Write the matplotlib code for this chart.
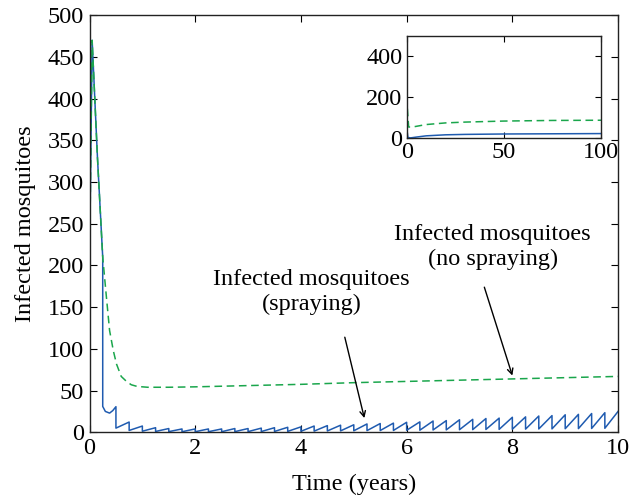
import numpy as np
import matplotlib
matplotlib.use("Agg")
import matplotlib.pyplot as plt

plt.rcParams['font.family'] = ['Liberation Serif', 'DejaVu Serif']

# ---------------- data ----------------
# No spraying (green dashed): knots
green_t = [0.0, 0.05, 0.15, 0.25, 0.32, 0.38, 0.45, 0.51, 0.60, 0.70, 0.79, 0.9, 1.1, 1.5, 2.0, 3.0, 4.0, 5.0, 6.0, 7.0, 8.0, 9.0, 10.0]
green_v = [200, 470, 330, 210, 162, 122, 98, 82, 67, 61, 57, 55, 54, 54, 54.5, 56, 57.5, 59.5, 61, 62.5, 64, 65.5, 67]

# Spraying (blue): initial transient before the quarterly sprays
blue_early_t = [0.0, 0.05, 0.15, 0.25, 0.25, 0.30, 0.38, 0.44]
blue_early_v = [200, 470, 330, 210, 31, 25, 23, 26]

# Quarterly spraying: value just before / just after each spray
spray_times = np.arange(0.5, 10.01, 0.25)
pre_spray = [30.7, 12.3, 7.5, 5.5, 4.5, 4.0, 4.0, 4.0, 4.0, 4.5,
             4.5, 5.0, 5.5, 6.0, 6.5, 7.5, 8.0, 8.5, 9.0, 10.0,
             10.5, 11.0, 12.0, 12.5, 13.5, 14.0, 15.0, 15.5, 16.5, 17.0,
             18.0, 18.5, 19.5, 20.0, 21.0, 21.5, 22.5, 23.5, 25.0]
post_spray = [5.0, 2.2, 1.3, 1.0, 0.8, 0.7, 0.7, 0.7, 0.7, 0.8,
              0.8, 0.9, 1.0, 1.1, 1.2, 1.4, 1.6, 1.7, 1.8, 2.0,
              2.1, 2.2, 2.4, 2.5, 2.8, 2.9, 3.1, 3.2, 3.4, 3.5,
              3.7, 3.8, 4.0, 4.1, 4.3, 4.4, 4.6, 4.8, 5.0]

# Inset (0-100 years)
inset_green_t = [0.0, 0.05, 0.3, 1.0, 3.0, 10, 20, 30, 50, 75, 100]
inset_green_v = [200, 470, 150, 55, 55, 67, 75, 79, 84, 87, 88]
inset_blue_t = [0.0, 0.05, 0.25, 0.6, 2.0, 5.0, 10, 20, 30, 50, 75, 100]
inset_blue_v = [200, 310, 30, 4, 2, 6, 12, 17, 19, 21, 22, 23]

x_ticks = [0, 2, 4, 6, 8, 10]
y_ticks = [0, 50, 100, 150, 200, 250, 300, 350, 400, 450, 500]
inset_x_ticks = [0, 50, 100]
inset_y_ticks = [0, 200, 400]

label_nospray = 'Infected mosquitoes\n(no spraying)'
label_spray = 'Infected mosquitoes\n(spraying)'

BLUE = '#1f5bb0'
GREEN = '#1aa64c'
FS = 17.5

# Build the blue sawtooth path from the read values
bt = list(blue_early_t)
bv = list(blue_early_v)
for t, pre, post in zip(spray_times, pre_spray, post_spray):
    bt += [t, t]
    bv += [pre, post]
bt = bt[:-1]
bv = bv[:-1]

fig = plt.figure(figsize=(6.33, 4.97), dpi=100)
ax = fig.add_axes([0.1414, 0.1302, 0.835, 0.839])
ax.plot(bt, bv, color=BLUE, lw=1.1)
ax.plot(green_t, green_v, color=GREEN, lw=1.1, dashes=(5, 3))
ax.set_xlim(0, 10)
ax.set_ylim(0, 500)
ax.set_xticks(x_ticks)
ax.set_yticks(y_ticks)
ax.tick_params(direction='in', top=True, right=True, length=5, width=0.8,
               labelsize=FS, pad=4)
for s in ax.spines.values():
    s.set_linewidth(1.0)
    s.set_color('#222222')
ax.set_xlabel('Time (years)', fontsize=FS, labelpad=11)
ax.set_ylabel('Infected mosquitoes', fontsize=FS, labelpad=8)

# annotation texts and arrows
ax.text(7.63, 222, label_nospray, fontsize=FS, ha='center', va='center',
        linespacing=1.25)
ax.annotate('', xy=(8.0, 68), xytext=(7.47, 174),
            arrowprops=dict(arrowstyle='->', color='black', lw=1.0,
                            shrinkA=0, shrinkB=0))
ax.text(4.2, 168, label_spray, fontsize=FS, ha='center', va='center',
        linespacing=1.25)
ax.annotate('', xy=(5.2, 17), xytext=(4.83, 114),
            arrowprops=dict(arrowstyle='->', color='black', lw=1.0,
                            shrinkA=0, shrinkB=0))

ins = fig.add_axes([406.7/633, 1 - 138.3/497, (601 - 406.7)/633, (138.3 - 35.7)/497])
ins.plot(inset_blue_t, inset_blue_v, color=BLUE, lw=1.1)
ins.plot(inset_green_t, inset_green_v, color=GREEN, lw=1.1, dashes=(5, 3))
ins.set_xlim(0, 100)
ins.set_ylim(0, 500)
ins.set_xticks(inset_x_ticks)
ins.set_yticks(inset_y_ticks)
ins.tick_params(direction='in', top=True, right=True, length=4, width=0.8,
                labelsize=FS, pad=3)
for s in ins.spines.values():
    s.set_linewidth(1.0)
    s.set_color('#222222')

fig.savefig('out.png', dpi=100)
